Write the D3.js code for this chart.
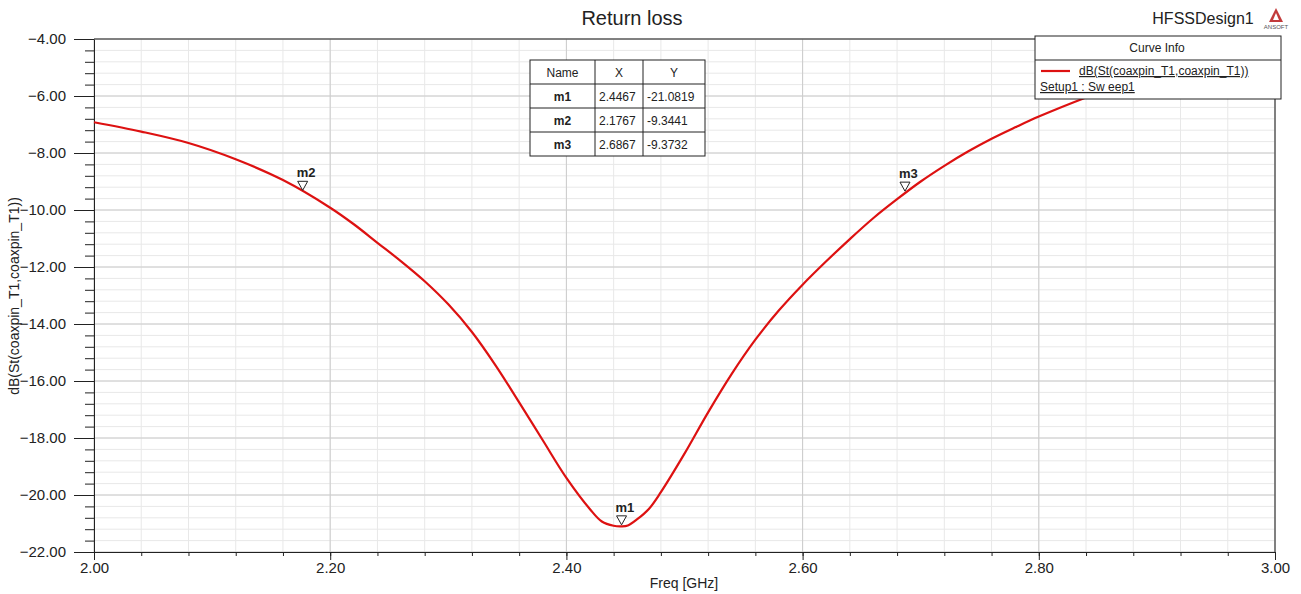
<!doctype html>
<meta charset="utf-8">
<title>Return loss</title>
<script src="https://cdn.jsdelivr.net/npm/d3@7"></script>
<style>
body { margin: 0; background: #fff; }
svg { display: block; font-family: "Liberation Sans", Arial, sans-serif; }
.grid-minor line { stroke: #e8e8e8; }
.grid-major line { stroke: #cccccc; }
.axis path, .axis line { stroke: #222; }
.axis text { fill: #222; font-size: 15px; }
</style>
<svg id="chart" width="1301" height="594"></svg>
<script>
// S11
var freq = [2.00, 2.04, 2.08, 2.12, 2.16, 2.20, 2.22, 2.24, 2.26, 2.28, 2.30, 2.32,
  2.34, 2.36, 2.38, 2.40, 2.42, 2.43, 2.44, 2.4467, 2.452, 2.46, 2.47, 2.48,
  2.50, 2.52, 2.54, 2.56, 2.58, 2.60, 2.62, 2.64, 2.66, 2.68, 2.70, 2.72,
  2.74, 2.76, 2.78, 2.80, 2.84, 2.88, 2.92, 2.96, 3.00];
var s11 = [-6.92, -7.25, -7.65, -8.22, -8.95, -9.92, -10.50, -11.15, -11.80, -12.50, -13.31, -14.28,
  -15.45, -16.75, -18.08, -19.40, -20.50, -20.93, -21.08, -21.10, -21.07, -20.85, -20.48, -19.90,
  -18.55, -17.10, -15.75, -14.55, -13.52, -12.62, -11.80, -11.02, -10.28, -9.62, -9.00, -8.45,
  -7.95, -7.50, -7.10, -6.72, -6.05, -5.45, -4.90, -4.40, -4.20];

var markerNames = ["m1", "m2", "m3"];
var markerX = [2.4467, 2.1767, 2.6867];
var markerY = [-21.0819, -9.3441, -9.3732];

var xMajor = [2.0, 2.2, 2.4, 2.6, 2.8, 3.0];
var yMajor = [-22, -20, -18, -16, -14, -12, -10, -8, -6, -4];
var xMinor = d3.range(26).map(function(i) { return 2 + i * 0.04; });
var yMinor = d3.range(46).map(function(i) { return -22 + i * 0.4; });

var svg = d3.select("#chart");
var pLeft = 94, pRight = 1275, pTop = 39, pBottom = 552;

var x = d3.scaleLinear().domain([2, 3]).range([pLeft, pRight]);
var y = d3.scaleLinear().domain([-22, -4]).range([pBottom, pTop]);

// grid
var gMin = svg.append("g").attr("class", "grid-minor");
gMin.selectAll("line.v").data(xMinor).enter().append("line").attr("class", "v")
  .attr("x1", function(d) { return x(d); }).attr("x2", function(d) { return x(d); })
  .attr("y1", pTop).attr("y2", pBottom);
gMin.selectAll("line.h").data(yMinor).enter().append("line").attr("class", "h")
  .attr("y1", function(d) { return y(d); }).attr("y2", function(d) { return y(d); })
  .attr("x1", pLeft).attr("x2", pRight);
var gMaj = svg.append("g").attr("class", "grid-major");
gMaj.selectAll("line.v").data(xMajor).enter().append("line").attr("class", "v")
  .attr("x1", function(d) { return x(d); }).attr("x2", function(d) { return x(d); })
  .attr("y1", pTop).attr("y2", pBottom);
gMaj.selectAll("line.h").data(yMajor).enter().append("line").attr("class", "h")
  .attr("y1", function(d) { return y(d); }).attr("y2", function(d) { return y(d); })
  .attr("x1", pLeft).attr("x2", pRight);

// axes
svg.append("g").attr("class", "axis")
  .attr("transform", "translate(" + pLeft + ",0)")
  .call(d3.axisLeft(y).tickValues(yMinor).tickSize(9).tickFormat(""))
  .select(".domain").remove();
svg.append("g").attr("class", "axis")
  .attr("transform", "translate(" + pLeft + ",0)")
  .call(d3.axisLeft(y).tickValues(yMajor).tickSize(20).tickSizeOuter(0)
    .tickPadding(8).tickFormat(d3.format(".2f")));
svg.append("g").attr("class", "axis")
  .attr("transform", "translate(0," + pBottom + ")")
  .call(d3.axisBottom(x).tickValues(xMinor).tickSize(4).tickFormat(""))
  .select(".domain").remove();
svg.append("g").attr("class", "axis")
  .attr("transform", "translate(0," + pBottom + ")")
  .call(d3.axisBottom(x).tickValues(xMajor).tickSize(8).tickSizeOuter(0)
    .tickPadding(2).tickFormat(d3.format(".2f")));

svg.append("line").attr("x1", pLeft).attr("x2", pRight).attr("y1", pTop).attr("y2", pTop)
  .attr("stroke", "#222");
svg.append("line").attr("x1", pRight).attr("x2", pRight).attr("y1", pTop).attr("y2", pBottom)
  .attr("stroke", "#222");

// curve
var pts = freq.map(function(f, i) { return [f, s11[i]]; });
var line = d3.line()
  .x(function(d) { return x(d[0]); })
  .y(function(d) { return y(d[1]); })
  .curve(d3.curveCatmullRom.alpha(0.5));
svg.append("path").datum(pts)
  .attr("d", line)
  .attr("fill", "none")
  .attr("stroke", "#dd1111")
  .attr("stroke-width", 2.2);

// markers
markerNames.forEach(function(m, i) {
  var px = x(markerX[i]), py = y(markerY[i]) - 1;
  svg.append("path")
    .attr("d", "M" + px + "," + py + "L" + (px - 5) + "," + (py - 9) + "L" + (px + 5) + "," + (py - 9) + "Z")
    .attr("fill", "#fff").attr("stroke", "#222").attr("stroke-width", 1);
  svg.append("text").attr("x", px - 6).attr("y", py - 13)
    .attr("font-size", 13).attr("font-weight", "bold").attr("fill", "#222")
    .text(m);
});

// titles
svg.append("text").attr("x", 632).attr("y", 25).attr("text-anchor", "middle")
  .attr("font-size", 20).attr("fill", "#222").text("Return loss");
svg.append("text").attr("x", 1203).attr("y", 24).attr("text-anchor", "middle")
  .attr("font-size", 16).attr("fill", "#222").text("HFSSDesign1");
svg.append("text").attr("x", 684).attr("y", 588).attr("text-anchor", "middle")
  .attr("font-size", 14).attr("fill", "#222").text("Freq [GHz]");
svg.append("text").attr("transform", "translate(19,296) rotate(-90)")
  .attr("text-anchor", "middle").attr("font-size", 14).attr("fill", "#222")
  .text("dB(St(coaxpin_T1,coaxpin_T1))");

// ansoft logo
svg.append("path").attr("d", "M1276,8L1269,22L1283,22Z").attr("fill", "#c23b3b");
svg.append("path").attr("d", "M1276,13L1273,20L1279,20Z").attr("fill", "#fff");
svg.append("text").attr("x", 1276).attr("y", 29).attr("text-anchor", "middle")
  .attr("font-size", 6).attr("fill", "#555").text("ANSOFT");

// marker table
var cols = [530, 595, 643, 705];
var rows = [60, 84, 108, 132, 156];
var tbl = svg.append("g");
tbl.append("rect").attr("x", cols[0]).attr("y", rows[0])
  .attr("width", cols[3] - cols[0]).attr("height", rows[4] - rows[0])
  .attr("fill", "#fff").attr("stroke", "#222");
rows.slice(1, 4).forEach(function(r) {
  tbl.append("line").attr("x1", cols[0]).attr("x2", cols[3]).attr("y1", r).attr("y2", r).attr("stroke", "#222");
});
cols.slice(1, 3).forEach(function(c) {
  tbl.append("line").attr("x1", c).attr("x2", c).attr("y1", rows[0]).attr("y2", rows[4]).attr("stroke", "#222");
});
var header = ["Name", "X", "Y"];
header.forEach(function(h, j) {
  tbl.append("text").attr("x", (cols[j] + cols[j + 1]) / 2).attr("y", rows[0] + 17)
    .attr("text-anchor", "middle").attr("font-size", 12).attr("fill", "#222").text(h);
});
markerNames.forEach(function(m, i) {
  var cy = rows[i + 1] + 17;
  tbl.append("text").attr("x", (cols[0] + cols[1]) / 2).attr("y", cy)
    .attr("text-anchor", "middle").attr("font-size", 12).attr("font-weight", "bold")
    .attr("fill", "#222").text(m);
  tbl.append("text").attr("x", cols[1] + 4).attr("y", cy)
    .attr("font-size", 12).attr("fill", "#222").text(markerX[i].toFixed(4));
  tbl.append("text").attr("x", cols[2] + 4).attr("y", cy)
    .attr("font-size", 12).attr("fill", "#222").text(markerY[i].toFixed(4));
});

// curve info legend
var lg = svg.append("g");
lg.append("rect").attr("x", 1035).attr("y", 36).attr("width", 246).attr("height", 63)
  .attr("fill", "#fff").attr("stroke", "#222");
lg.append("line").attr("x1", 1035).attr("x2", 1281).attr("y1", 60).attr("y2", 60).attr("stroke", "#222");
lg.append("text").attr("x", 1157).attr("y", 52).attr("text-anchor", "middle")
  .attr("font-size", 12).attr("fill", "#222").text("Curve Info");
lg.append("line").attr("x1", 1041).attr("x2", 1070).attr("y1", 71).attr("y2", 71)
  .attr("stroke", "#dd1111").attr("stroke-width", 2.2);
lg.append("text").attr("x", 1079).attr("y", 75).attr("font-size", 12)
  .attr("text-decoration", "underline").attr("fill", "#222")
  .text("dB(St(coaxpin_T1,coaxpin_T1))");
lg.append("text").attr("x", 1040).attr("y", 91).attr("font-size", 12)
  .attr("text-decoration", "underline").attr("fill", "#222")
  .text("Setup1 : Sw eep1");
</script>
